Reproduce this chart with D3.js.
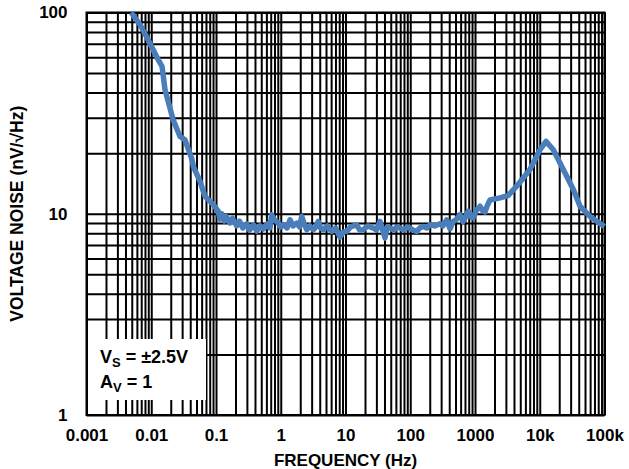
<!DOCTYPE html>
<html>
<head>
<meta charset="utf-8">
<script src="https://cdn.jsdelivr.net/npm/d3@7"></script>
<style>
  html, body { margin: 0; padding: 0; background: #fff; }
  svg { display: block; font-family: "Liberation Sans", Arial, Helvetica, sans-serif; font-weight: bold; }
</style>
</head>
<body>
<svg id="chart" width="629" height="469"></svg>
<script>
// Voltage noise density vs frequency (Hz, nV/√Hz)
const frequency = [0.0049, 0.0067, 0.0089, 0.0123, 0.0147, 0.0163, 0.0217, 0.0278, 0.0332, 0.0426,
  0.0446, 0.0566, 0.0676, 0.0908,
  0.108, 0.115, 0.122, 0.135, 0.145, 0.164, 0.18, 0.209, 0.23, 0.26,
  0.298, 0.33, 0.38, 0.426, 0.48, 0.539, 0.62, 0.68, 0.725, 0.8,
  0.916, 1.0, 1.10, 1.25, 1.39, 1.55, 1.76, 1.95, 2.11, 2.3,
  2.52, 2.8, 3.18, 3.5, 3.80, 4.1, 4.54, 5.2, 6.12, 7.0,
  8.22, 9.2, 10.4, 12, 14.9, 16.5, 18.8, 22, 26.9, 30,
  34.1, 37, 40.7, 44, 48.7, 56, 62, 69.5, 80, 90,
  99, 110, 126, 140, 159, 180, 202, 240, 288, 320,
  366, 411, 462, 520, 586, 653, 720, 788, 860, 931,
  1050, 1194, 1300, 1427, 1550, 1706, 2432, 3236, 4406, 7063,
  10090, 12500, 16200, 23100, 33000, 41900, 59700, 100000];
const noise = [100, 87.1, 73.4, 59.7, 53.9, 41.4, 29.4, 24.2, 23.3, 18.6,
  17.2, 14.5, 12.2, 11.1,
  10.3, 9.4, 10.0, 9.2, 9.7, 9.0, 9.5, 8.7, 9.2, 8.5,
  8.9, 8.3, 8.8, 8.2, 8.7, 8.4, 8.9, 8.5, 9.89, 9.3,
  9.0, 8.6, 8.82, 8.5, 9.33, 8.7, 8.99, 8.6, 9.70, 8.9,
  8.33, 8.7, 8.33, 8.6, 9.16, 8.5, 8.33, 8.7, 8.17, 8.5,
  7.66, 8.1, 8.17, 8.6, 8.82, 8.3, 8.33, 8.7, 8.49, 8.3,
  9.16, 8.4, 7.57, 8.6, 8.49, 8.3, 8.6, 8.49, 8.3, 8.6,
  8.49, 8.3, 8.17, 8.5, 8.65, 8.5, 8.82, 8.7, 8.92, 8.7,
  9.33, 8.42, 9.16, 9.4, 9.89, 9.12, 9.7, 10.3, 9.6, 9.55,
  10.4, 10.9, 10.4, 10.2, 11.0, 11.7, 12.0, 12.3, 13.7, 16.6,
  20.8, 22.9, 20.8, 16.6, 13.2, 10.9, 9.70, 8.65];

const xTickValues = [0.001, 0.01, 0.1, 1, 10, 100, 1000, 10000, 100000];
const xTickLabels = ["0.001", "0.01", "0.1", "1", "10", "100", "1000", "10k", "100k"];
const yTickValues = [1, 10, 100];
const yTickLabels = ["1", "10", "100"];
const legendLines = [["V", "S", " = \u00B12.5V"], ["A", "V", " = 1"]];

const plotL = 86.5, plotR = 604.5, plotT = 12.5, plotB = 415;

const svg = d3.select("#chart");
const x = d3.scaleLog().domain([0.001, 100000]).range([plotL, plotR]);
const y = d3.scaleLog().domain([1, 100]).range([plotB, plotT]);

// full 1-2-...-9 log grid
const xGrid = [];
xTickValues.forEach((d, i) => {
  if (i < xTickValues.length - 1) for (let k = 1; k <= 9; k++) xGrid.push(d * k);
  else xGrid.push(d);
});
const yGrid = [];
yTickValues.forEach((d, i) => {
  if (i < yTickValues.length - 1) for (let k = 1; k <= 9; k++) yGrid.push(d * k);
  else yGrid.push(d);
});

const gridV = svg.append("g")
  .attr("transform", `translate(0,${plotB})`)
  .call(d3.axisBottom(x).tickValues(xGrid).tickFormat("").tickSize(-(plotB - plotT)).tickSizeOuter(0));
const gridH = svg.append("g")
  .attr("transform", `translate(${plotL},0)`)
  .call(d3.axisLeft(y).tickValues(yGrid).tickFormat("").tickSize(-(plotR - plotL)).tickSizeOuter(0));
[gridV, gridH].forEach(g => {
  g.select(".domain").remove();
  g.selectAll("line").attr("stroke", "#000").attr("stroke-width", 2);
});

// plot frame
svg.append("rect")
  .attr("x", plotL).attr("y", plotT)
  .attr("width", plotR - plotL).attr("height", plotB - plotT)
  .attr("fill", "none").attr("stroke", "#000").attr("stroke-width", 2);

// condition box
svg.append("rect")
  .attr("x", plotL + 1.5).attr("y", 339)
  .attr("width", 118).attr("height", 61)
  .attr("fill", "#fff");

const legend = svg.append("g").attr("font-size", 18).attr("fill", "#000");
legendLines.forEach((parts, i) => {
  const t = legend.append("text").attr("x", 100).attr("y", 363 + i * 25);
  t.append("tspan").text(parts[0]);
  t.append("tspan").attr("font-size", 13).attr("dy", 4).text(parts[1]);
  t.append("tspan").attr("dy", -4).text(parts[2]);
});

// noise curve
const pts = frequency.map((f, i) => [f, noise[i]]);
svg.append("path")
  .datum(pts)
  .attr("fill", "none")
  .attr("stroke", "#4a7ebb")
  .attr("stroke-width", 5.5)
  .attr("stroke-linejoin", "round")
  .attr("d", d3.line().x(d => x(d[0])).y(d => y(d[1])));

// axis labels
const xAxis = svg.append("g")
  .attr("transform", `translate(0,${plotB})`)
  .call(d3.axisBottom(x).tickValues(xTickValues)
    .tickFormat((d, i) => xTickLabels[i]).tickSize(0).tickPadding(14));
xAxis.select(".domain").remove();
xAxis.selectAll("text").attr("font-size", 17).attr("font-family", null).attr("fill", "#000");

const yAxis = svg.append("g")
  .attr("transform", `translate(${plotL},0)`)
  .call(d3.axisLeft(y).tickValues(yTickValues)
    .tickFormat((d, i) => yTickLabels[i]).tickSize(0).tickPadding(19));
yAxis.select(".domain").remove();
yAxis.selectAll("text").attr("font-size", 17).attr("font-family", null).attr("fill", "#000");

svg.append("text")
  .attr("x", (plotL + plotR) / 2).attr("y", 466)
  .attr("text-anchor", "middle").attr("font-size", 17)
  .text("FREQUENCY (Hz)");

svg.append("text")
  .attr("transform", `translate(23,${(plotT + plotB) / 2}) rotate(-90)`)
  .attr("text-anchor", "middle").attr("font-size", 17.5)
  .text("VOLTAGE NOISE (nV/\u221AHz)");
</script>
</body>
</html>
